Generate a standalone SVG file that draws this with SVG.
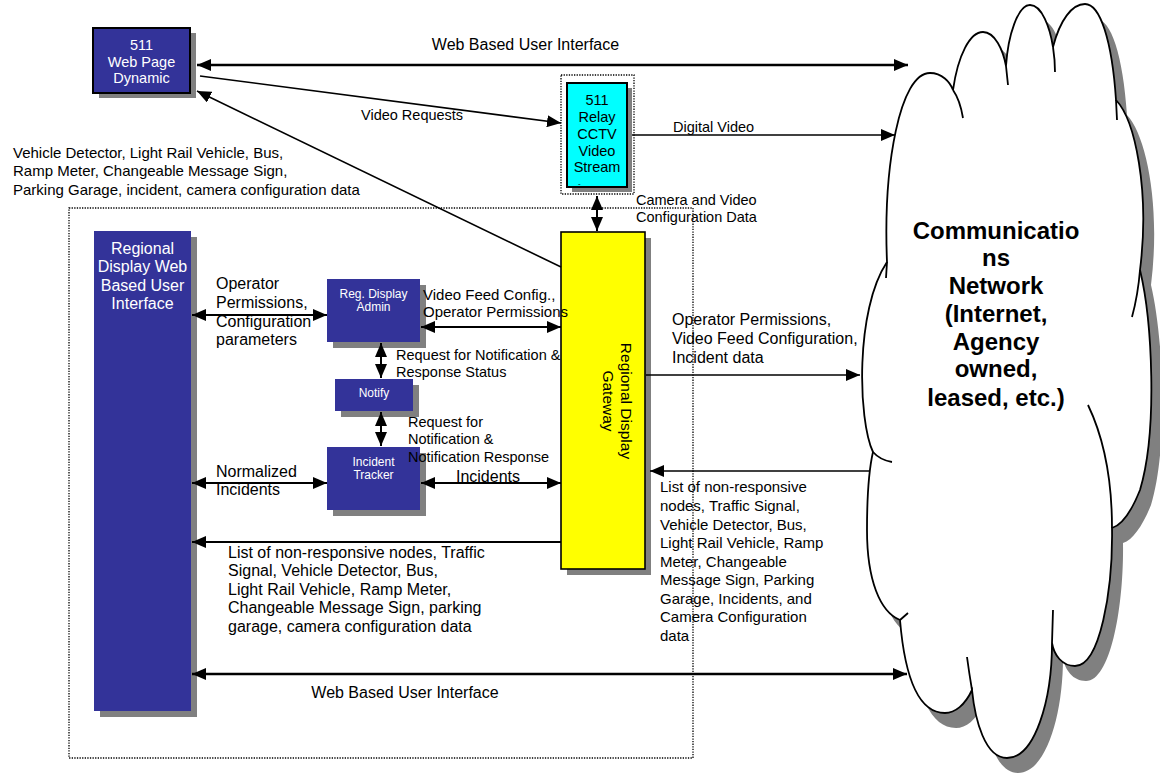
<svg xmlns="http://www.w3.org/2000/svg" width="1160" height="774" viewBox="0 0 1160 774">
<defs>
<style>
.t{font-family:"Liberation Sans",Arial,sans-serif;fill:#000}
.w{fill:#fff}
.c{text-anchor:middle}
.f8{font-size:8px}
.f12{font-size:12px}
.f145{font-size:14.5px}
.f15{font-size:15px}
.f155{font-size:15.5px}
.f16{font-size:16px}
.cl{font-size:24px;font-weight:bold}
.blue{fill:#333399}
.sh{fill:#808080}
.dot{fill:none;stroke:#000;stroke-width:1.3;stroke-dasharray:1.3 1.3}
.ln{fill:none;stroke:#000;stroke-width:2}
.thin{stroke-width:1.6}
.bold{stroke-width:2.6}
</style>
<marker id="ah" viewBox="0 0 14 12" refX="14" refY="6" markerWidth="14" markerHeight="12" markerUnits="userSpaceOnUse" orient="auto-start-reverse"><path d="M0,0 L14,6 L0,12 z" fill="#000"/></marker>
<path id="cloudP" d="M887,262 C883,165 900,73 930,73 C942,73 950,82 953,90 C958,55 970,32 983,32 C995,32 1003,50 1006,66 C1008,35 1018,5 1030,5 C1042,5 1050,28 1053,47 C1060,20 1072,4 1085,4 C1100,4 1112,40 1116,100 C1135,120 1150,190 1140,270 C1152,320 1158,430 1140,490 C1132,510 1122,525 1112,528 C1113,590 1100,666 1075,666 C1062,666 1054,655 1052,643 C1052,700 1035,758 1007,758 C985,758 975,720 972,690 C965,705 955,713 945,713 C920,713 905,680 900,620 C880,612 867,580 867,530 C867,490 870,465 873,452 C858,420 855,310 887,262 Z"/>
</defs>
<rect width="1160" height="774" fill="#fff"/>

<g id="frames">
<rect class="dot" x="69" y="208" width="624" height="550"/>
</g>

<g id="cloud">
<use href="#cloudP" transform="translate(11,15)" fill="#808080"/>
<use href="#cloudP" fill="#fff" stroke="#000" stroke-width="1.8"/>
<path d="M953,90 Q960,100 963,118 M1006,66 L1008,85 M1053,47 Q1055,60 1055,72 M1116,100 L1117,120 M1140,270 Q1138,295 1132,317 M1112,528 C1112,470 1100,430 1088,405 M1052,643 L1053,610 M972,690 Q969,672 967,657 M900,620 L908,613 M873,452 Q880,460 892,462 M887,262 L886,278" fill="none" stroke="#000" stroke-width="1.8"/>
<text class="t cl c" x="996" y="238.5">Communicatio</text>
<text class="t cl c" x="996" y="265.5">ns</text>
<text class="t cl c" x="996" y="293.5">Network</text>
<text class="t cl c" x="996" y="321.5">(Internet,</text>
<text class="t cl c" x="996" y="349.5">Agency</text>
<text class="t cl c" x="996" y="376.5">owned,</text>
<text class="t cl c" x="996" y="405.5">leased, etc.)</text>
</g>

<g id="web511">
<rect class="sh" x="99" y="33" width="97" height="65"/>
<rect class="blue" x="93" y="28" width="97" height="65" stroke="#000" stroke-width="2"/>
<text class="t w c f145" x="141.5" y="50">511</text>
<text class="t w c f145" x="141.5" y="67">Web Page</text>
<text class="t w c f145" x="141.5" y="83">Dynamic</text>
</g>

<g id="relay">
<rect class="dot" x="561" y="75" width="73" height="119"/>
<rect class="sh" x="572" y="88" width="60" height="104"/>
<rect x="567" y="83" width="60" height="104" fill="#00ffff" stroke="#000" stroke-width="2"/>
<text class="t c f145" x="597" y="105">511</text>
<text class="t c f145" x="597" y="122">Relay</text>
<text class="t c f145" x="597" y="139">CCTV</text>
<text class="t c f145" x="597" y="156">Video</text>
<text class="t c f145" x="597" y="172">Stream</text>
<text class="t f8" x="578" y="185.5">-</text>
</g>

<g id="regional">
<rect class="sh" x="100" y="237" width="97" height="480"/>
<rect class="blue" x="94" y="231" width="97" height="480"/>
<text class="t w c f16" x="142.5" y="253.5">Regional</text>
<text class="t w c f16" x="142.5" y="272">Display Web</text>
<text class="t w c f16" x="142.5" y="290.5">Based User</text>
<text class="t w c f16" x="142.5" y="309">Interface</text>
</g>

<g id="admin">
<rect class="sh" x="333" y="285" width="93" height="63"/>
<rect class="blue" x="327" y="279" width="93" height="63"/>
<text class="t w c f12" x="373.5" y="298">Reg. Display</text>
<text class="t w c f12" x="373.5" y="311">Admin</text>
</g>

<g id="notify">
<rect class="sh" x="341" y="385" width="78" height="32"/>
<rect class="blue" x="335" y="379" width="78" height="32"/>
<text class="t w c f12" x="374" y="397">Notify</text>
</g>

<g id="incident">
<rect class="sh" x="333" y="453" width="93" height="63"/>
<rect class="blue" x="327" y="447" width="93" height="63"/>
<text class="t w c f12" x="373.5" y="466">Incident</text>
<text class="t w c f12" x="373.5" y="479">Tracker</text>
</g>

<g id="gateway">
<rect class="sh" x="567" y="238" width="84" height="337"/>
<rect x="561" y="232" width="84" height="337" fill="#ffff00" stroke="#000" stroke-width="1.6"/>
<text class="t c f155" transform="translate(620.5,401) rotate(90)" x="0" y="0">Regional Display</text>
<text class="t c f155" transform="translate(602.5,401) rotate(90)" x="0" y="0">Gateway</text>
</g>

<g id="connectors">
<line class="ln bold" x1="197" y1="65" x2="908" y2="65" marker-start="url(#ah)" marker-end="url(#ah)"/>
<line class="ln thin" x1="200" y1="76" x2="561" y2="123" marker-end="url(#ah)"/>
<line class="ln thin" x1="561" y1="267" x2="197" y2="91" marker-end="url(#ah)"/>
<line class="ln thin" x1="632" y1="135" x2="895" y2="135" marker-end="url(#ah)"/>
<line class="ln" x1="597" y1="196" x2="597" y2="231" marker-start="url(#ah)" marker-end="url(#ah)"/>
<line class="ln" x1="192" y1="315" x2="327" y2="315" marker-start="url(#ah)" marker-end="url(#ah)"/>
<line class="ln" x1="421" y1="327" x2="561" y2="327" marker-start="url(#ah)" marker-end="url(#ah)"/>
<line class="ln" x1="381" y1="343" x2="381" y2="378" marker-start="url(#ah)" marker-end="url(#ah)"/>
<line class="ln" x1="381" y1="412" x2="381" y2="446" marker-start="url(#ah)" marker-end="url(#ah)"/>
<line class="ln" x1="192" y1="483" x2="327" y2="483" marker-start="url(#ah)" marker-end="url(#ah)"/>
<line class="ln" x1="421" y1="483" x2="561" y2="483" marker-start="url(#ah)" marker-end="url(#ah)"/>
<line class="ln thin" x1="646" y1="375" x2="860" y2="375" marker-end="url(#ah)"/>
<line class="ln thin" x1="869" y1="471" x2="650" y2="471" marker-end="url(#ah)"/>
<line class="ln" x1="561" y1="542" x2="192" y2="542" marker-end="url(#ah)"/>
<line class="ln bold" x1="192" y1="674" x2="907" y2="674" marker-start="url(#ah)" marker-end="url(#ah)"/>
</g>

<g id="labels">
<text class="t c f16" x="525.5" y="49.5">Web Based User Interface</text>
<text class="t f145" x="361" y="120">Video Requests</text>
<text class="t f145" x="673" y="132">Digital Video</text>
<text class="t f15" x="13" y="157.5">Vehicle Detector, Light Rail Vehicle, Bus,</text>
<text class="t f15" x="13" y="176">Ramp Meter, Changeable Message Sign,</text>
<text class="t f15" x="13" y="194.5">Parking Garage, incident, camera configuration data</text>
<text class="t f145" x="636" y="204.5">Camera and Video</text>
<text class="t f145" x="636" y="222">Configuration Data</text>
<text class="t f16" x="216" y="288.5">Operator</text>
<text class="t f16" x="216" y="307.5">Permissions,</text>
<text class="t f16" x="216" y="326.5">Configuration</text>
<text class="t f16" x="216" y="344.5">parameters</text>
<text class="t f15" x="423" y="300.3">Video Feed Config.,</text>
<text class="t f15" x="423" y="317.3">Operator Permissions</text>
<text class="t f145" x="396" y="360.3">Request for Notification &amp;</text>
<text class="t f145" x="396" y="377.3">Response Status</text>
<text class="t f145" x="408" y="427.3">Request for</text>
<text class="t f145" x="408" y="444.3">Notification &amp;</text>
<text class="t f145" x="408" y="462.3">Notification Response</text>
<text class="t f16" x="216" y="476.5">Normalized</text>
<text class="t f16" x="216" y="494.5">Incidents</text>
<text class="t c f16" x="488" y="481.5">Incidents</text>
<text class="t f16" x="672" y="324.5">Operator Permissions,</text>
<text class="t f16" x="672" y="343.5">Video Feed Configuration,</text>
<text class="t f16" x="672" y="362.5">Incident data</text>
<text class="t f15" x="660" y="492.3">List of non-responsive</text>
<text class="t f15" x="660" y="511">nodes, Traffic Signal,</text>
<text class="t f15" x="660" y="529.5">Vehicle Detector, Bus,</text>
<text class="t f15" x="660" y="548">Light Rail Vehicle, Ramp</text>
<text class="t f15" x="660" y="566.5">Meter, Changeable</text>
<text class="t f15" x="660" y="585">Message Sign, Parking</text>
<text class="t f15" x="660" y="603.5">Garage, Incidents, and</text>
<text class="t f15" x="660" y="622">Camera Configuration</text>
<text class="t f15" x="660" y="640.5">data</text>
<text class="t f16" x="228" y="557.5">List of non-responsive nodes, Traffic</text>
<text class="t f16" x="228" y="576">Signal, Vehicle Detector, Bus,</text>
<text class="t f16" x="228" y="594.5">Light Rail Vehicle, Ramp Meter,</text>
<text class="t f16" x="228" y="613">Changeable Message Sign, parking</text>
<text class="t f16" x="228" y="631.5">garage, camera configuration data</text>
<text class="t c f16" x="405" y="697.5">Web Based User Interface</text>
</g>
</svg>
